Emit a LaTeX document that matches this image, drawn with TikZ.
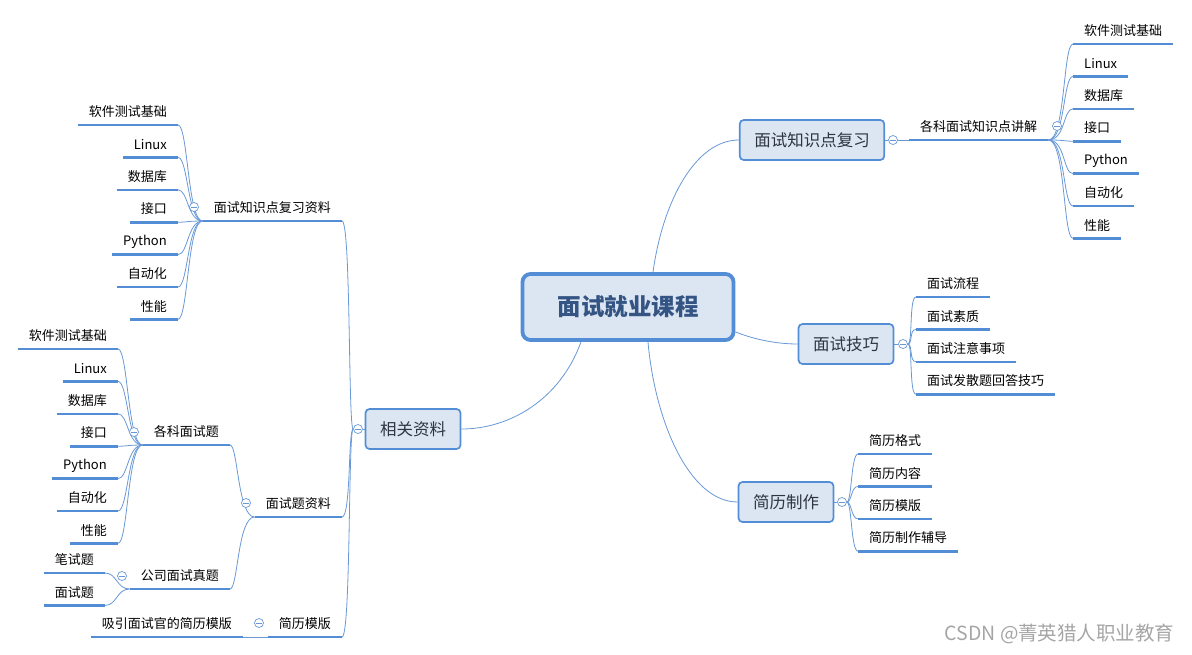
\documentclass[tikz,border=0pt]{standalone}
\usepackage{fontspec}
\setmainfont{Noto Sans CJK SC}
\usetikzlibrary{positioning,backgrounds}
\definecolor{mapblue}{RGB}{83,141,213}
\definecolor{maptwig}{RGB}{104,152,214}
\definecolor{mapfill}{RGB}{220,230,242}
\definecolor{mapink}{RGB}{45,52,68}
\definecolor{mapdark}{RGB}{52,84,132}
\definecolor{mapgray}{RGB}{165,165,165}

\begin{document}
\begin{tikzpicture}[
    x=1pt,
    y=-1pt,
    root/.style={
        draw=mapblue,
        line width=3.8pt,
        rounded corners=8pt,
        fill=mapfill,
        text=mapdark,
        font=\fontsize{23.5}{26}\selectfont\bfseries,
        minimum height=66pt,
        inner xsep=35pt
    },
    topic/.style={
        draw=mapblue,
        line width=1.7pt,
        rounded corners=4pt,
        fill=mapfill,
        text=mapink,
        font=\fontsize{16.5}{18}\selectfont,
        minimum height=40pt,
        inner xsep=14.5pt
    },
    leaf/.style={
        font=\fontsize{13}{15}\selectfont,
        inner xsep=11pt,
        inner ysep=0pt,
        minimum height=26pt,
        append after command={
            (\tikzlastnode.south west) edge[underline] (\tikzlastnode.south east)
        }
    },
    underline/.style={
        draw=mapblue,
        line width=2.6pt
    },
    twig/.style={
        draw=maptwig,
        line width=0.8pt
    },
    toggle/.style={
        circle,
        draw=maptwig,
        fill=white,
        line width=0.7pt,
        minimum size=9pt,
        inner sep=0pt,
        path picture={
            \draw[maptwig, line width=0.7pt]
                ([xshift=-2.6pt]path picture bounding box.center) --
                ([xshift=2.6pt]path picture bounding box.center);
        }
    }
]
\useasboundingbox (0,0) rectangle (1192,654);

\node[root] (root) at (628,307) {面试就业课程};

\node[topic] (review) at (812,140) {面试知识点复习};
\node[toggle] (reviewtog) at (893,140) {};
\node[leaf, anchor=south west] (reviewsub) at (909,140) {各科面试知识点讲解};
\node[toggle] (reviewsubtog) at (1057,126) {};
\node[leaf, anchor=south west] (rv1) at (1073,44) {软件测试基础};
\node[leaf, below=6pt of rv1.south west, anchor=north west] (rv2) {Linux};
\node[leaf, below=6pt of rv2.south west, anchor=north west] (rv3) {数据库};
\node[leaf, below=6pt of rv3.south west, anchor=north west] (rv4) {接口};
\node[leaf, below=6pt of rv4.south west, anchor=north west] (rv5) {Python};
\node[leaf, below=6pt of rv5.south west, anchor=north west] (rv6) {自动化};
\node[leaf, below=6pt of rv6.south west, anchor=north west] (rv7) {性能};

\node[topic] (skill) at (846,344) {面试技巧};
\node[toggle] (skilltog) at (903,344) {};
\node[leaf, anchor=south west] (sk1) at (916,297) {面试流程};
\node[leaf, below=6pt of sk1.south west, anchor=north west] (sk2) {面试素质};
\node[leaf, below=6pt of sk2.south west, anchor=north west] (sk3) {面试注意事项};
\node[leaf, below=6pt of sk3.south west, anchor=north west] (sk4) {面试发散题回答技巧};

\node[topic] (resume) at (786,502) {简历制作};
\node[toggle] (resumetog) at (842,502) {};
\node[leaf, anchor=south west] (rs1) at (858,454) {简历格式};
\node[leaf, below=6pt of rs1.south west, anchor=north west] (rs2) {简历内容};
\node[leaf, below=6pt of rs2.south west, anchor=north west] (rs3) {简历模版};
\node[leaf, below=6pt of rs3.south west, anchor=north west] (rs4) {简历制作辅导};

\node[topic] (material) at (413,429) {相关资料};
\node[toggle] (materialtog) at (358,429) {};

\node[leaf, anchor=south east] (notes) at (342,221) {面试知识点复习资料};
\node[toggle] (notestog) at (194,207) {};
\node[leaf, anchor=south east] (nt1) at (178,125) {软件测试基础};
\node[leaf, below=6pt of nt1.south east, anchor=north east] (nt2) {Linux};
\node[leaf, below=6pt of nt2.south east, anchor=north east] (nt3) {数据库};
\node[leaf, below=6pt of nt3.south east, anchor=north east] (nt4) {接口};
\node[leaf, below=6pt of nt4.south east, anchor=north east] (nt5) {Python};
\node[leaf, below=6pt of nt5.south east, anchor=north east] (nt6) {自动化};
\node[leaf, below=6pt of nt6.south east, anchor=north east] (nt7) {性能};

\node[leaf, anchor=south east] (bank) at (342,517) {面试题资料};
\node[toggle] (banktog) at (246,503) {};
\node[leaf, anchor=south east] (subject) at (230,445) {各科面试题};
\node[toggle] (subjecttog) at (134,432) {};
\node[leaf, anchor=south east] (sb1) at (118,349) {软件测试基础};
\node[leaf, below=6pt of sb1.south east, anchor=north east] (sb2) {Linux};
\node[leaf, below=6pt of sb2.south east, anchor=north east] (sb3) {数据库};
\node[leaf, below=6pt of sb3.south east, anchor=north east] (sb4) {接口};
\node[leaf, below=6pt of sb4.south east, anchor=north east] (sb5) {Python};
\node[leaf, below=6pt of sb5.south east, anchor=north east] (sb6) {自动化};
\node[leaf, below=6pt of sb6.south east, anchor=north east] (sb7) {性能};
\node[leaf, anchor=south east] (company) at (230,589) {公司面试真题};
\node[toggle] (companytog) at (122,576) {};
\node[leaf, anchor=south east] (cp1) at (105,573) {笔试题};
\node[leaf, below=6pt of cp1.south east, anchor=north east] (cp2) {面试题};

\node[leaf, anchor=south east] (template) at (342,637) {简历模版};
\node[toggle] (templatetog) at (259,623) {};
\node[leaf, anchor=south east] (tp1) at (243,637) {吸引面试官的简历模版};

\node[
    anchor=east,
    text=mapgray,
    font=\fontsize{19.5}{22}\selectfont
] (credit) at (1178,634) {CSDN @菁英猎人职业教育};

\begin{scope}[on background layer]
\draw[twig] ([xshift=25pt]root.north) .. controls +(10,-72) and +(-43,0) .. (review.west);
\draw[twig] ([yshift=10pt]root.south east) .. controls +(20,8) and +(-20,0) .. (skill.west);
\draw[twig] ([xshift=20pt]root.south) .. controls +(7,80) and +(-48,0) .. (resume.west);
\draw[twig] ([xshift=-47pt]root.south) .. controls +(-21,58) and +(48,0) .. (material.east);

\draw[twig] (review.east) -- (reviewtog.west);
\draw[twig] (reviewtog.east) -- (reviewsub.south west);
\draw[twig] (reviewsub.south east) .. controls +(17,0) and +(-10,0) .. (rv1.south west);
\draw[twig] (reviewsub.south east) .. controls +(17,0) and +(-10,0) .. (rv2.south west);
\draw[twig] (reviewsub.south east) .. controls +(17,0) and +(-10,0) .. (rv3.south west);
\draw[twig] (reviewsub.south east) .. controls +(17,0) and +(-10,0) .. (rv4.south west);
\draw[twig] (reviewsub.south east) .. controls +(17,0) and +(-10,0) .. (rv5.south west);
\draw[twig] (reviewsub.south east) .. controls +(17,0) and +(-10,0) .. (rv6.south west);
\draw[twig] (reviewsub.south east) .. controls +(17,0) and +(-10,0) .. (rv7.south west);

\draw[twig] (skill.east) -- (skilltog.west);
\draw[twig] (skilltog.east) .. controls +(5,0) and +(-7,0) .. (sk1.south west);
\draw[twig] (skilltog.east) .. controls +(5,0) and +(-7,0) .. (sk2.south west);
\draw[twig] (skilltog.east) .. controls +(5,0) and +(-7,0) .. (sk3.south west);
\draw[twig] (skilltog.east) .. controls +(5,0) and +(-7,0) .. (sk4.south west);

\draw[twig] (resume.east) -- (resumetog.west);
\draw[twig] (resumetog.east) .. controls +(5,0) and +(-7,0) .. (rs1.south west);
\draw[twig] (resumetog.east) .. controls +(5,0) and +(-7,0) .. (rs2.south west);
\draw[twig] (resumetog.east) .. controls +(5,0) and +(-7,0) .. (rs3.south west);
\draw[twig] (resumetog.east) .. controls +(5,0) and +(-7,0) .. (rs4.south west);

\draw[twig] (material.west) -- (materialtog.east);
\draw[twig] (materialtog.west) .. controls +(-5,0) and +(9,0) .. (notes.south east);
\draw[twig] (materialtog.west) .. controls +(-5,0) and +(9,0) .. (bank.south east);
\draw[twig] (materialtog.west) .. controls +(-5,0) and +(9,0) .. (template.south east);

\draw[twig] (notes.south west) .. controls +(-15,0) and +(10,0) .. (nt1.south east);
\draw[twig] (notes.south west) .. controls +(-15,0) and +(10,0) .. (nt2.south east);
\draw[twig] (notes.south west) .. controls +(-15,0) and +(10,0) .. (nt3.south east);
\draw[twig] (notes.south west) .. controls +(-15,0) and +(10,0) .. (nt4.south east);
\draw[twig] (notes.south west) .. controls +(-15,0) and +(10,0) .. (nt5.south east);
\draw[twig] (notes.south west) .. controls +(-15,0) and +(10,0) .. (nt6.south east);
\draw[twig] (notes.south west) .. controls +(-15,0) and +(10,0) .. (nt7.south east);

\draw[twig] (bank.south west) .. controls +(-17,0) and +(8,0) .. (subject.south east);
\draw[twig] (bank.south west) .. controls +(-17,0) and +(8,0) .. (company.south east);

\draw[twig] (subject.south west) .. controls +(-15,0) and +(10,0) .. (sb1.south east);
\draw[twig] (subject.south west) .. controls +(-15,0) and +(10,0) .. (sb2.south east);
\draw[twig] (subject.south west) .. controls +(-15,0) and +(10,0) .. (sb3.south east);
\draw[twig] (subject.south west) .. controls +(-15,0) and +(10,0) .. (sb4.south east);
\draw[twig] (subject.south west) .. controls +(-15,0) and +(10,0) .. (sb5.south east);
\draw[twig] (subject.south west) .. controls +(-15,0) and +(10,0) .. (sb6.south east);
\draw[twig] (subject.south west) .. controls +(-15,0) and +(10,0) .. (sb7.south east);

\draw[twig] (company.south west) .. controls +(-13,0) and +(12,0) .. (cp1.south east);
\draw[twig] (company.south west) .. controls +(-13,0) and +(12,0) .. (cp2.south east);

\draw[twig] (template.south west) -- (tp1.south east);
\end{scope}

\end{tikzpicture}
\end{document}
